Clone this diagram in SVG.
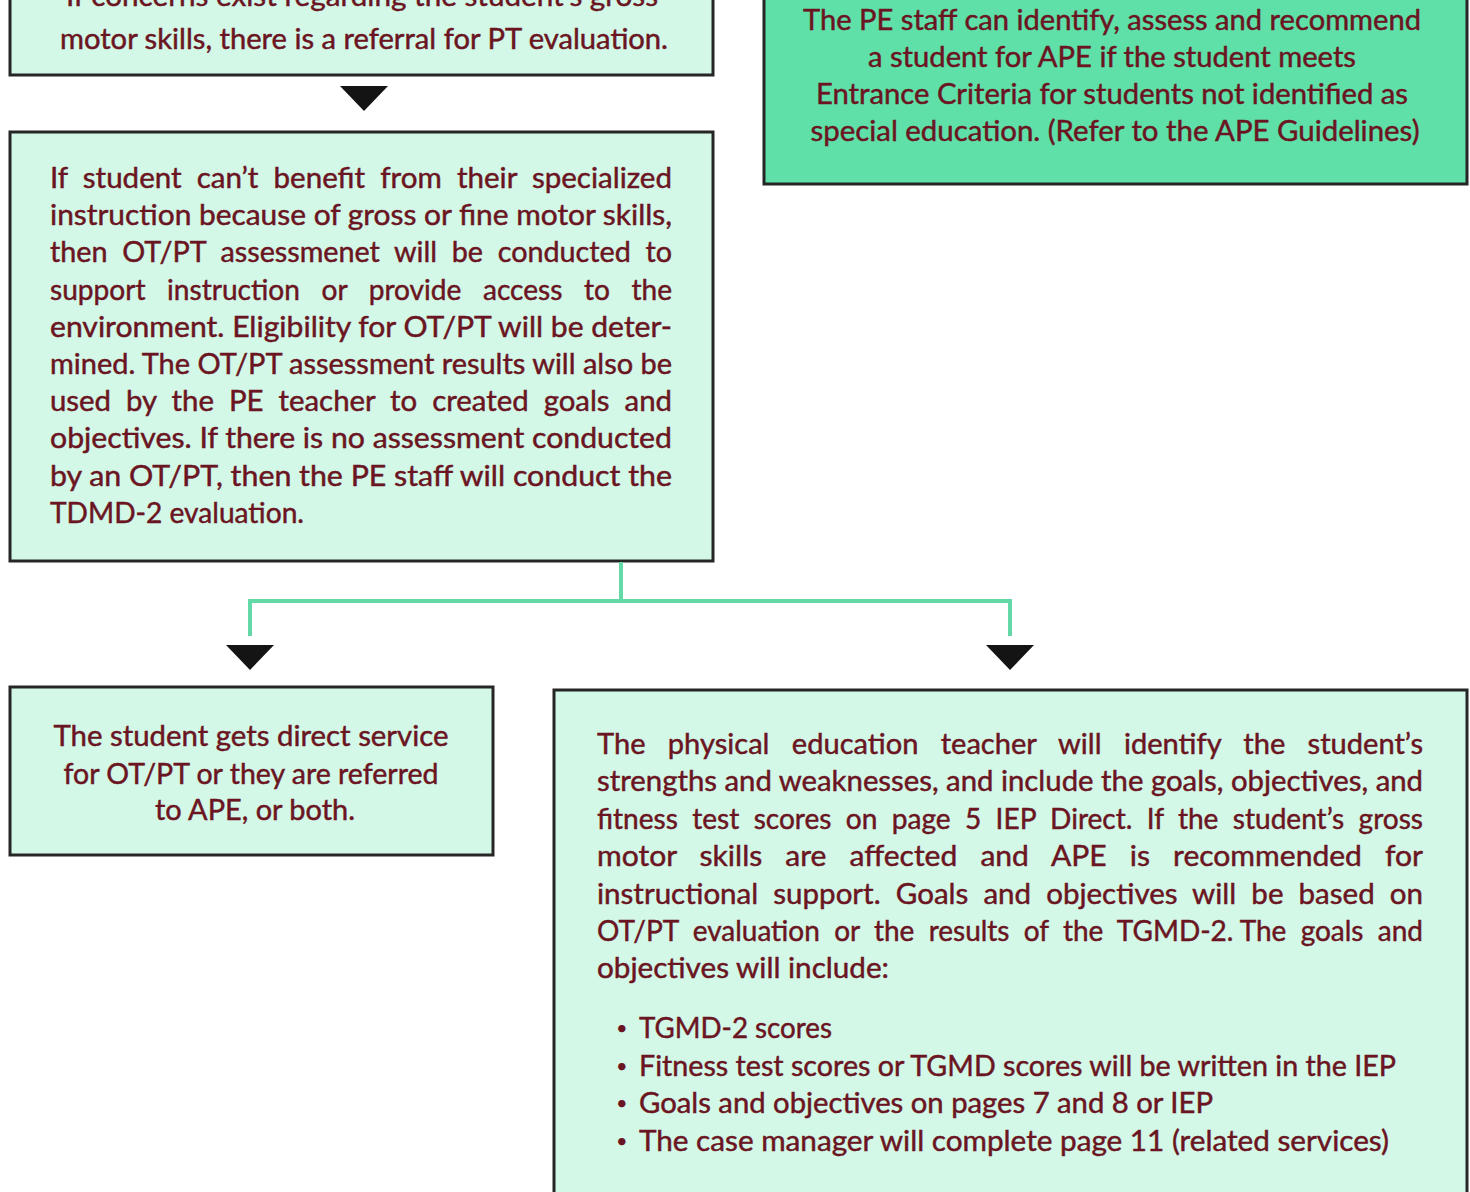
<svg xmlns="http://www.w3.org/2000/svg" width="1470" height="1192" viewBox="0 0 1470 1192" xml:space="preserve">
<style>
.box{fill:#d3f8e8;stroke:#262626;stroke-width:3}
.dark{fill:#5fe0a9;stroke:#262626;stroke-width:3}
.t{font-family:Lato,"Open Sans","Liberation Sans",sans-serif;font-size:28px;fill:#6a1521;stroke:#6a1521;stroke-width:0.45px;white-space:pre}
.b{font-family:Lato,"Open Sans","Liberation Sans",sans-serif;font-size:20px;fill:#6a1521}
.c{text-anchor:middle}
.line{fill:none;stroke:#63d9a7;stroke-width:4}
.arrow{fill:#141414}
</style>
<defs>
<polygon id="tri" points="-24,0 24,0 0,25"/>
</defs>
<rect width="1470" height="1192" fill="#ffffff"/>

<g id="node-pt-referral">
<rect class="box" x="10" y="-40" width="703" height="115"/>
<text class="t c" x="362" y="6" textLength="592" lengthAdjust="spacingAndGlyphs">If concerns exist regarding the student’s gross</text>
<text class="t c" x="364" y="49" textLength="608" lengthAdjust="spacingAndGlyphs">motor skills, there is a referral for PT evaluation.</text>
</g>

<g id="node-pe-staff">
<rect class="dark" x="764" y="-40" width="703" height="224"/>
<text class="t c" x="1112" y="30" textLength="618" lengthAdjust="spacingAndGlyphs">The PE staff can identify, assess and recommend</text>
<text class="t c" x="1112" y="67" textLength="488" lengthAdjust="spacingAndGlyphs">a student for APE if the student meets</text>
<text class="t c" x="1112" y="104" textLength="592" lengthAdjust="spacingAndGlyphs">Entrance Criteria for students not identified as</text>
<text class="t c" x="1115" y="141" textLength="609" lengthAdjust="spacingAndGlyphs">special education. (Refer to the APE Guidelines)</text>
</g>

<g id="node-otpt-assessment">
<rect class="box" x="10" y="132" width="703" height="429"/>
<text class="t" x="50" y="188" textLength="622" lengthAdjust="spacingAndGlyphs">If  student  can’t  benefit  from  their  specialized</text>
<text class="t" x="50" y="225.2" textLength="622" lengthAdjust="spacingAndGlyphs">instruction because of gross or fine motor skills,</text>
<text class="t" x="50" y="262.4" textLength="622" lengthAdjust="spacingAndGlyphs">then  OT/PT  assessmenet  will  be  conducted  to</text>
<text class="t" x="50" y="299.6" textLength="622" lengthAdjust="spacingAndGlyphs">support   instruction   or   provide   access   to   the</text>
<text class="t" x="50" y="336.8" textLength="622" lengthAdjust="spacingAndGlyphs">environment. Eligibility for OT/PT will be deter-</text>
<text class="t" x="50" y="374" textLength="622" lengthAdjust="spacingAndGlyphs">mined. The OT/PT assessment results will also be</text>
<text class="t" x="50" y="411.2" textLength="622" lengthAdjust="spacingAndGlyphs">used  by  the  PE  teacher  to  created  goals  and</text>
<text class="t" x="50" y="448.4" textLength="622" lengthAdjust="spacingAndGlyphs">objectives. If there is no assessment conducted</text>
<text class="t" x="50" y="485.6" textLength="622" lengthAdjust="spacingAndGlyphs">by an OT/PT, then the PE staff will conduct the</text>
<text class="t" x="50" y="522.8" textLength="254" lengthAdjust="spacingAndGlyphs">TDMD-2 evaluation.</text>
</g>

<g id="node-direct-service">
<rect class="box" x="10" y="687" width="483" height="168"/>
<text class="t c" x="251" y="746" textLength="395" lengthAdjust="spacingAndGlyphs">The student gets direct service</text>
<text class="t c" x="251" y="784" textLength="375" lengthAdjust="spacingAndGlyphs">for OT/PT or they are referred</text>
<text class="t c" x="255" y="820" textLength="200" lengthAdjust="spacingAndGlyphs">to APE, or both.</text>
</g>

<g id="node-pe-teacher">
<rect class="box" x="554" y="690" width="913" height="540"/>
<text class="t" x="597" y="754" textLength="826" lengthAdjust="spacingAndGlyphs">The   physical   education   teacher   will   identify   the   student’s</text>
<text class="t" x="597" y="791" textLength="826" lengthAdjust="spacingAndGlyphs">strengths and weaknesses, and include the goals, objectives, and</text>
<text class="t" x="597" y="829" textLength="826" lengthAdjust="spacingAndGlyphs">fitness  test  scores  on  page  5  IEP  Direct.  If  the  student’s  gross</text>
<text class="t" x="597" y="866" textLength="826" lengthAdjust="spacingAndGlyphs">motor   skills   are   affected   and   APE   is   recommended   for</text>
<text class="t" x="597" y="904" textLength="826" lengthAdjust="spacingAndGlyphs">instructional  support.  Goals  and  objectives  will  be  based  on</text>
<text class="t" x="597" y="941" textLength="826" lengthAdjust="spacingAndGlyphs">OT/PT  evaluation  or  the  results  of  the  TGMD-2. The  goals  and</text>
<text class="t" x="597" y="978" textLength="292" lengthAdjust="spacingAndGlyphs">objectives will include:</text>
<text class="b" x="616" y="1035">•</text>
<text class="t" x="639" y="1038" textLength="193" lengthAdjust="spacingAndGlyphs">TGMD-2 scores</text>
<text class="b" x="616" y="1073">•</text>
<text class="t" x="639" y="1076" textLength="757" lengthAdjust="spacingAndGlyphs">Fitness test scores or TGMD scores will be written in the IEP</text>
<text class="b" x="616" y="1110">•</text>
<text class="t" x="639" y="1113" textLength="574" lengthAdjust="spacingAndGlyphs">Goals and objectives on pages 7 and 8 or IEP</text>
<text class="b" x="616" y="1148">•</text>
<text class="t" x="639" y="1151" textLength="750" lengthAdjust="spacingAndGlyphs">The case manager will complete page 11 (related services)</text>
</g>

<g id="connectors">
<use href="#tri" class="arrow" x="364" y="86"/>
<polyline class="line" points="621,562 621,601"/>
<polyline class="line" points="250,636 250,601 1010,601 1010,636"/>
<use href="#tri" class="arrow" x="250" y="645"/>
<use href="#tri" class="arrow" x="1010" y="645"/>
</g>
</svg>
